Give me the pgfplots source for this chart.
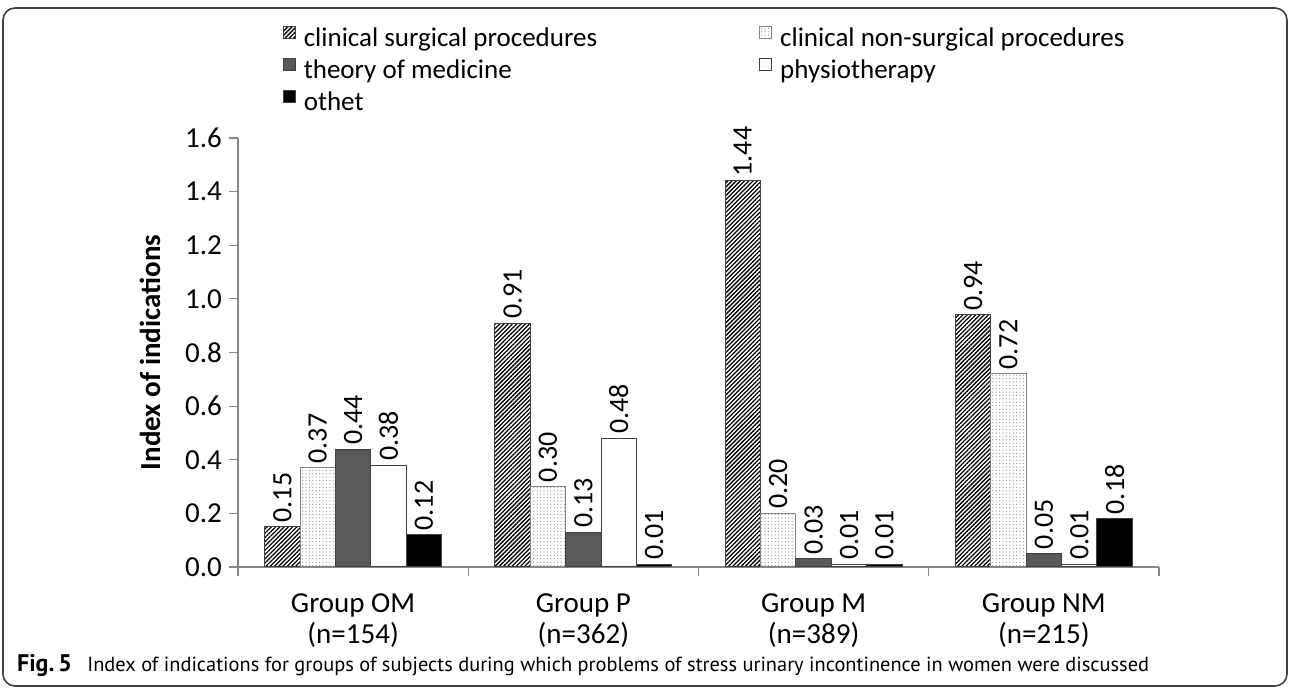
\documentclass[border=0pt]{standalone}
\usepackage{fontspec}
\setmainfont{Carlito}
\newfontfamily\capfont{PT Sans}
\usepackage{pgfplots}
\pgfplotsset{compat=1.18}
\usetikzlibrary{patterns.meta}
\definecolor{axisgray}{HTML}{868686}
\definecolor{darkbar}{HTML}{595959}
\definecolor{edge}{HTML}{404040}

\begin{document}
\begin{tikzpicture}
\useasboundingbox (0,0) rectangle (645pt,-344pt);
\draw[edge, line width=0.8pt, rounded corners=6pt] (1.5pt,-4pt) rectangle (643.5pt,-343pt);
\begin{axis}[
  at={(119pt,-283.5pt)}, anchor=south west,
  scale only axis, width=460.5pt, height=214.5pt,
  font=\fontsize{14.5}{15}\selectfont,
  ybar=0pt, bar width=17.7pt,
  xmin=-0.5, xmax=3.5, ymin=0, ymax=1.6,
  axis x line*=bottom, axis y line*=left,
  axis line style={axisgray, line width=0.6pt, -},
  tick align=outside, major tick length=4.5pt,
  tick style={axisgray, line width=0.6pt},
  xtick={-0.5,0.5,1.5,2.5,3.5},
  x tick label as interval,
  xticklabels={{Group OM\\(n=154)},{Group P\\(n=362)},{Group M\\(n=389)},{Group NM\\(n=215)}},
  xticklabel style={align=center, font=\fontsize{14.5}{15.5}\selectfont, yshift=-5.5pt},
  ytick={0,0.2,0.4,0.6,0.8,1.0,1.2,1.4,1.6},
  scaled y ticks=false,
  yticklabel style={/pgf/number format/fixed, /pgf/number format/fixed zerofill, /pgf/number format/precision=1, font=\fontsize{14.5}{15}\selectfont},
  /pgf/number format/assume math mode=true,
  ylabel={\textbf{Index of indications}},
  ylabel style={at={(axis description cs:-0.0955,0.5)}, anchor=center, font=\fontsize{14.5}{15}\selectfont},
  nodes near coords={\pgfmathprintnumber[fixed,fixed zerofill,precision=2]{\pgfplotspointmeta}},
  nodes near coords style={rotate=90, anchor=west, text=black, inner sep=2pt, font=\fontsize{14}{15}\selectfont},
  legend columns=2,
  legend cell align=left,
  legend image code/.code={\draw[#1] (0pt,0.3pt) rectangle (6pt,6.3pt);},
  legend style={at={(axis description cs:0.0482,1.268)}, anchor=north west,
    draw=none, fill=none, inner sep=0pt,
    nodes={inner sep=0pt, text height=11.5pt, text depth=4.5pt, font=\fontsize{13.5}{15}\selectfont},
    /tikz/every odd column/.style={column sep=4pt},
    /tikz/column 2/.style={column sep=81pt}},
]
\addplot[draw=edge, line width=0.5pt, pattern={Lines[angle=45,distance=1.5pt,line width=0.65pt]}, pattern color=black]
  coordinates {(0,0.15) (1,0.91) (2,1.44) (3,0.94)};
\addplot[draw=axisgray, line width=0.5pt, pattern={Dots[distance=1.7pt,radius=0.3pt]}, pattern color=black!45]
  coordinates {(0,0.37) (1,0.30) (2,0.20) (3,0.72)};
\addplot[draw=edge, line width=0.5pt, fill=darkbar]
  coordinates {(0,0.44) (1,0.13) (2,0.03) (3,0.05)};
\addplot[draw=edge, line width=0.5pt, fill=white]
  coordinates {(0,0.38) (1,0.48) (2,0.01) (3,0.01)};
\addplot[draw=edge, line width=0.5pt, fill=black]
  coordinates {(0,0.12) (1,0.01) (2,0.01) (3,0.18)};
\legend{clinical surgical procedures, clinical non-surgical procedures, theory of medicine, physiotherapy, othet}
\end{axis}
\node[anchor=base west, font=\capfont\fontsize{10.2}{12}\selectfont] at (5pt,-336pt)
  {{\fontsize{12}{12}\selectfont\textbf{Fig.\,5}}\hspace{0.75em}Index of indications for groups of subjects during which problems of stress urinary incontinence in women were discussed};
\end{tikzpicture}
\end{document}
